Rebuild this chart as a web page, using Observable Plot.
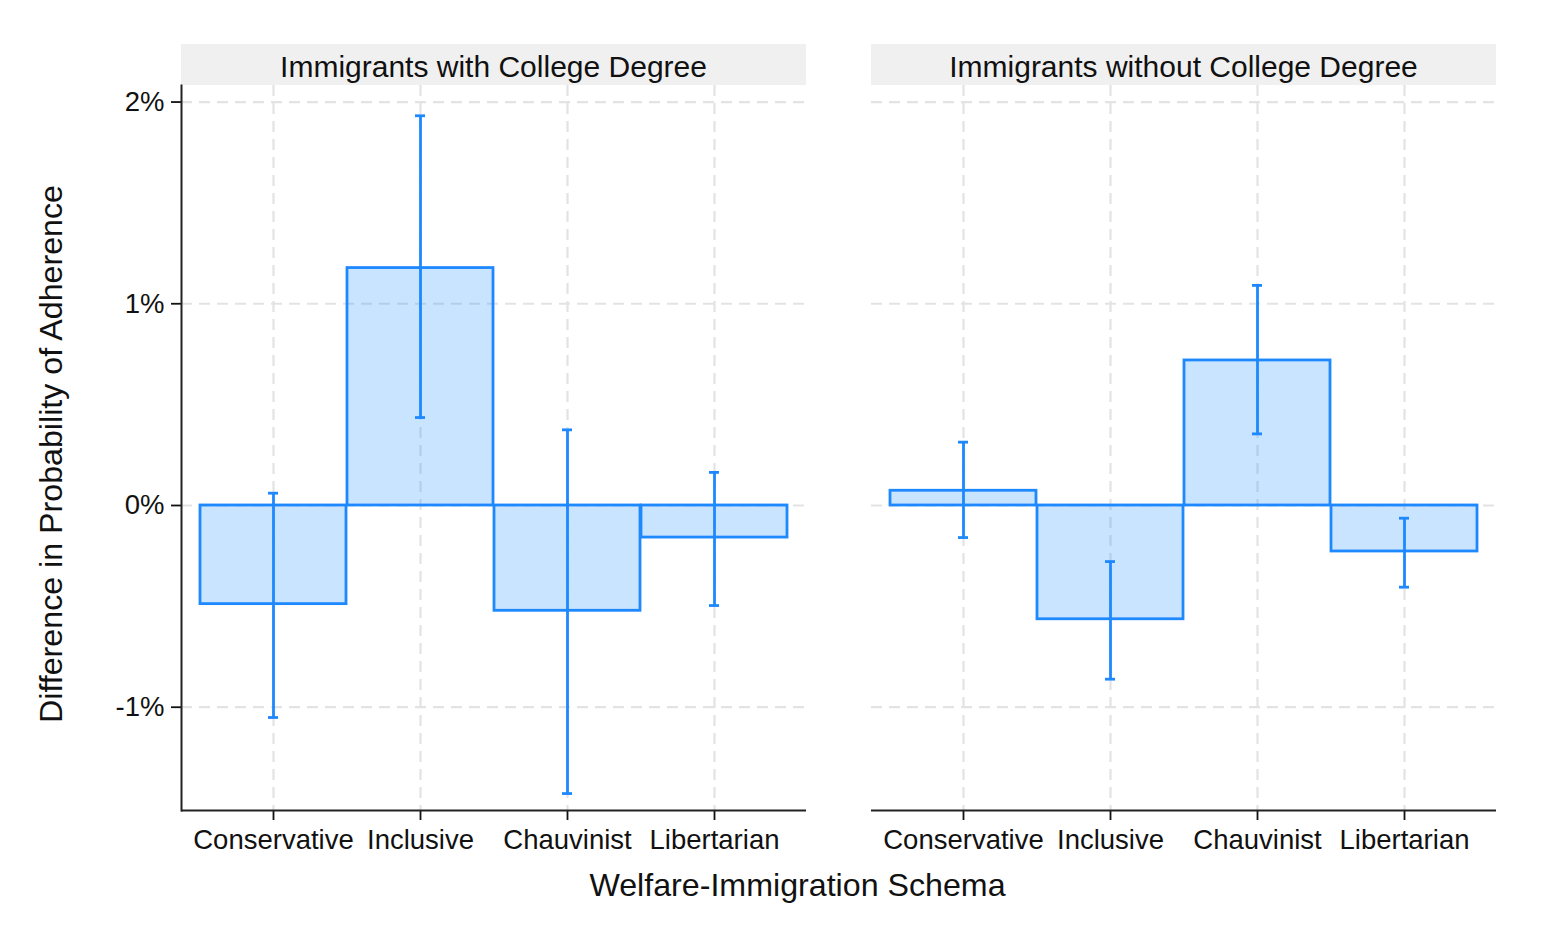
<!DOCTYPE html>
<html>
<head>
<meta charset="utf-8">
<script src="https://cdn.jsdelivr.net/npm/d3@7"></script>
<script src="https://cdn.jsdelivr.net/npm/@observablehq/plot@0.6"></script>
<style>
  html, body { margin: 0; padding: 0; background: white; }
  #chart { width: 1563px; height: 938px; }
</style>
</head>
<body>
<div id="chart"></div>
<script>
const categories = ["Conservative", "Inclusive", "Chauvinist", "Libertarian"];
const groups = ["Immigrants with College Degree", "Immigrants without College Degree"];

const estCollege = [-0.489, 1.177, -0.522, -0.159];
const loCollege  = [-1.051, 0.436, -1.428, -0.496];
const hiCollege  = [0.061, 1.932, 0.375, 0.164];

const estNoCollege = [0.073, -0.564, 0.719, -0.228];
const loNoCollege  = [-0.159, -0.861, 0.355, -0.405];
const hiNoCollege  = [0.314, -0.278, 1.091, -0.063];

const yTicks = [-1, 0, 1, 2];
const yDomain = [-1.512, 2.082];

const xTitle = "Welfare-Immigration Schema";
const yTitle = "Difference in Probability of Adherence";

const data = [];
categories.forEach((c, i) => {
  data.push({group: groups[0], cat: c, est: estCollege[i], lo: loCollege[i], hi: hiCollege[i]});
  data.push({group: groups[1], cat: c, est: estNoCollege[i], lo: loNoCollege[i], hi: hiNoCollege[i]});
});

const blue = "#1e88ff";
const gridStyle = {stroke: "#e3e3e3", strokeOpacity: 1, strokeWidth: 2.2, strokeDasharray: "11,7"};
const font = "'Liberation Sans', Arial, Helvetica, sans-serif";

const plot = Plot.plot({
  width: 1563,
  height: 938,
  marginLeft: 180,
  marginRight: 66,
  marginTop: 85,
  marginBottom: 128,
  style: {fontFamily: font, background: "white", color: "#111"},
  fx: {domain: groups, paddingInner: 0.094, paddingOuter: 0, axis: null, label: null},
  x: {domain: categories, paddingInner: 0.01, paddingOuter: 0.125, label: null},
  y: {domain: yDomain, label: null},
  marks: [
    Plot.gridY(yTicks, gridStyle),
    Plot.gridX(categories, gridStyle),
    Plot.barY(data, {fx: "group", x: "cat", y1: 0, y2: "est", fill: "#1e90ff", fillOpacity: 0.24, stroke: blue, strokeWidth: 2.8}),
    Plot.ruleX(data, {fx: "group", x: "cat", y1: "lo", y2: "hi", stroke: blue, strokeWidth: 2.8}),
    Plot.tickY(data, {fx: "group", x: "cat", y: "lo", stroke: blue, strokeWidth: 2.8, insetLeft: 68, insetRight: 68}),
    Plot.tickY(data, {fx: "group", x: "cat", y: "hi", stroke: blue, strokeWidth: 2.8, insetLeft: 68, insetRight: 68}),
    Plot.axisY(yTicks, {tickFormat: d => d + "%", tickSize: 10, tickPadding: 7, fontSize: 27.5, label: null, strokeWidth: 1.8}),
    Plot.axisX({tickSize: 10, tickPadding: 9, fontSize: 27.5, label: null, strokeWidth: 1.8}),
    Plot.ruleY([yDomain[0]], {stroke: "#222", strokeWidth: 2}),
    Plot.frame({anchor: "left", facetAnchor: "left", stroke: "#222", strokeWidth: 2})
  ]
});

const svg = d3.select(plot);
const fx = plot.scale("fx");
// facet header boxes, positioned from the fx scale
const headers = svg.insert("g", "g").attr("class", "headers");
groups.forEach(g => {
  const x0 = fx.apply(g);
  headers.append("rect")
    .attr("x", x0).attr("y", 44)
    .attr("width", fx.bandwidth).attr("height", 41)
    .attr("fill", "#f0f0f0");
  headers.append("text")
    .attr("x", x0 + fx.bandwidth / 2).attr("y", 77)
    .attr("text-anchor", "middle")
    .attr("font-size", 30)
    .attr("font-family", font)
    .attr("fill", "#111")
    .text(g);
});
// axis titles
svg.append("text")
  .attr("x", 797.5).attr("y", 896)
  .attr("text-anchor", "middle")
  .attr("font-size", 32.2)
  .attr("font-family", font)
  .attr("fill", "#111")
  .text(xTitle);
svg.append("text")
  .attr("transform", "translate(61.5,454) rotate(-90)")
  .attr("text-anchor", "middle")
  .attr("font-size", 32.2)
  .attr("font-family", font)
  .attr("fill", "#111")
  .text(yTitle);

document.getElementById("chart").appendChild(plot);
</script>
</body>
</html>
